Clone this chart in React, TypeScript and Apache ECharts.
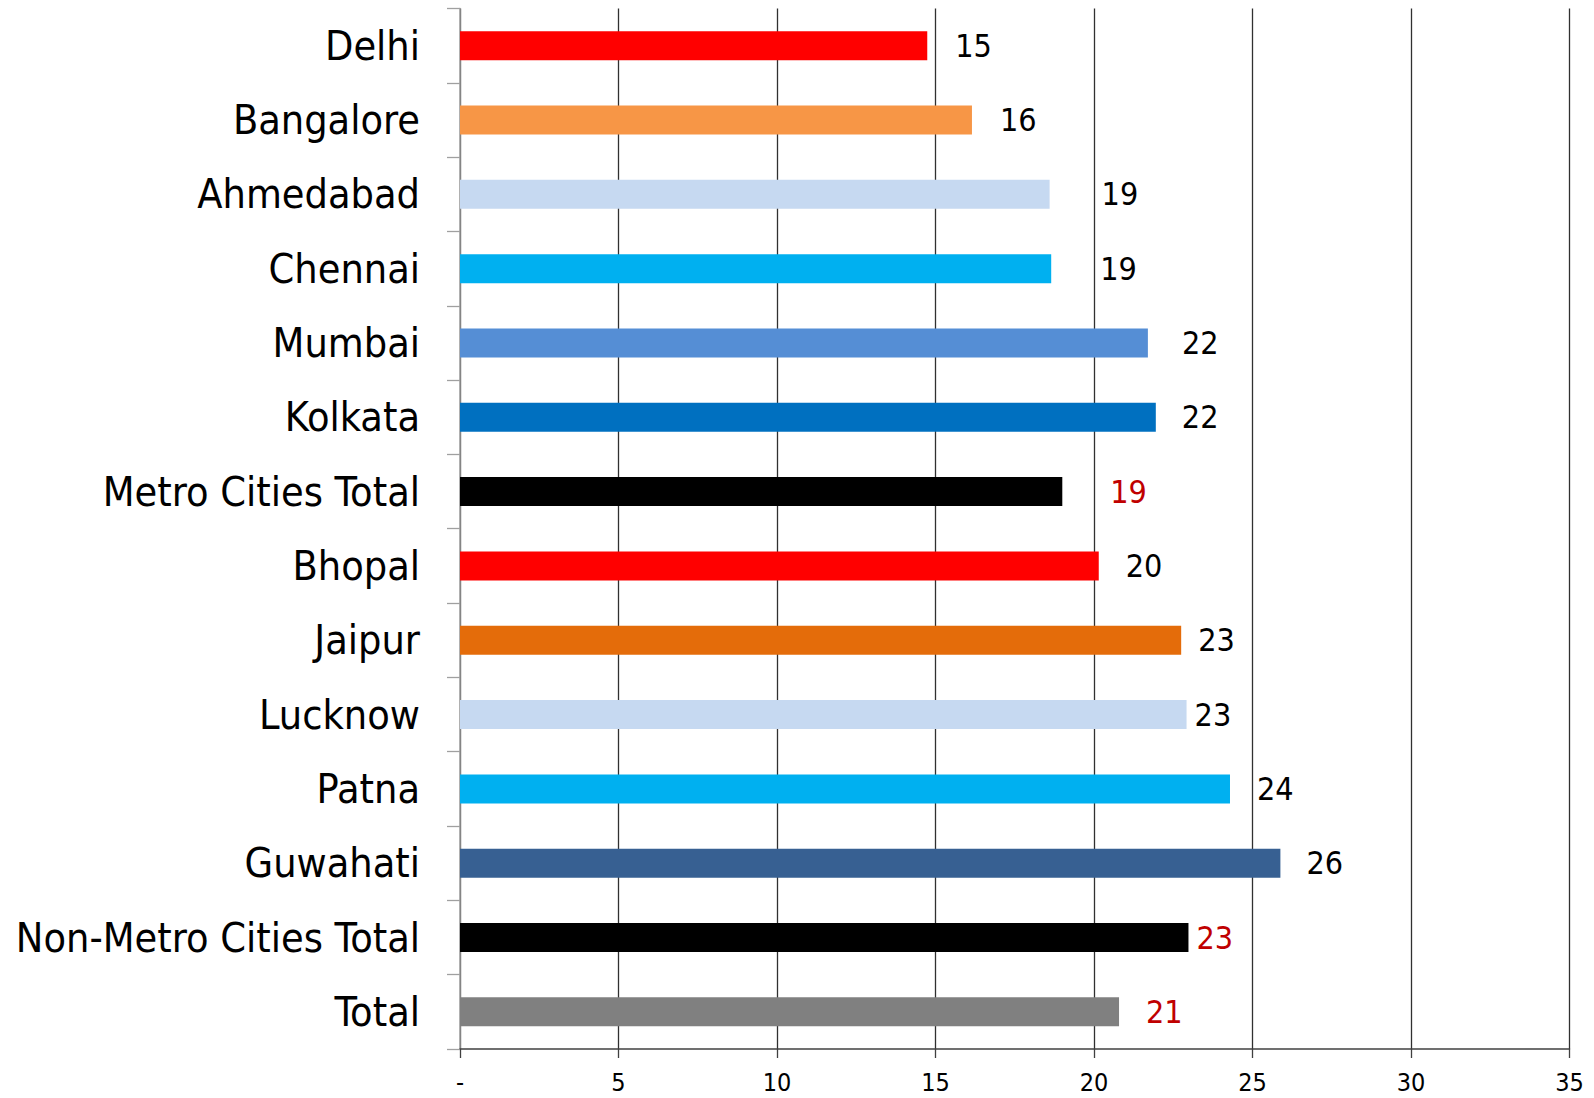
import React, { useEffect, useRef } from "react";
import * as echarts from "echarts";

const categories = [
  "Delhi", "Bangalore", "Ahmedabad", "Chennai", "Mumbai", "Kolkata",
  "Metro Cities Total", "Bhopal", "Jaipur", "Lucknow", "Patna", "Guwahati",
  "Non-Metro Cities Total", "Total",
];
const values = [14.74, 16.15, 18.6, 18.65, 21.7, 21.95, 19.0, 20.15, 22.75, 22.92, 24.29, 25.88, 22.98, 20.79];
const barColors = [
  "#FF0000", "#F79646", "#C6D9F1", "#00B0F0", "#558ED5", "#0070C0", "#000000",
  "#FF0000", "#E46C0A", "#C6D9F1", "#00B0F0", "#376092", "#000000", "#808080",
];
const labelColors = [
  "#000", "#000", "#000", "#000", "#000", "#000", "#C00000",
  "#000", "#000", "#000", "#000", "#000", "#C00000", "#C00000",
];
const labelGaps = [28, 28, 52, 49, 34, 26, 48, 27, 17, 8, 27, 26, 8, 27];
const xTicks = { min: 0, max: 35, interval: 5 };

const FONT = "'DejaVu Sans Condensed', 'DejaVu Sans', sans-serif";

export default function App() {
  const ref = useRef<HTMLDivElement>(null);
  useEffect(() => {
    if (!ref.current) return;
    const chart = echarts.init(ref.current, null, { renderer: "svg" });
    chart.setOption({
      animation: false,
      backgroundColor: "#ffffff",
      grid: { left: 460, right: 24.5, top: 8.5, bottom: 49, containLabel: false },
      xAxis: {
        type: "value",
        min: xTicks.min,
        max: xTicks.max,
        interval: xTicks.interval,
        axisLine: { show: true, lineStyle: { color: "#404040", width: 1.5 } },
        axisTick: { show: true, length: 9, lineStyle: { color: "#404040", width: 1.3 } },
        splitLine: { show: true, lineStyle: { color: "#303030", width: 1.3 } },
        axisLabel: {
          margin: 21,
          fontFamily: FONT,
          fontSize: 25,
          color: "#000",
          formatter: (v: number) => (v === 0 ? "-" : String(v)),
        },
      },
      yAxis: {
        type: "category",
        data: categories,
        inverse: true,
        axisLine: { show: true, lineStyle: { color: "#a0a0a0", width: 1.5 } },
        axisTick: { show: true, length: 13, lineStyle: { color: "#a0a0a0", width: 1.3 } },
        axisLabel: {
          margin: 40,
          fontFamily: FONT,
          fontSize: 41,
          color: "#000",
        },
      },
      series: [
        {
          type: "bar",
          barWidth: 29,
          data: values.map((v, i) => ({
            value: v,
            itemStyle: { color: barColors[i] },
            label: {
              show: true,
              position: "right",
              distance: labelGaps[i],
              color: labelColors[i],
              fontFamily: FONT,
              fontSize: 32,
              formatter: () => String(Math.round(v)),
            },
          })),
        },
      ],
    });
    return () => chart.dispose();
  }, []);
  return (
    <div
      ref={ref}
      style={{ position: "fixed", left: 0, top: 0, width: 1594, height: 1098 }}
    />
  );
}
